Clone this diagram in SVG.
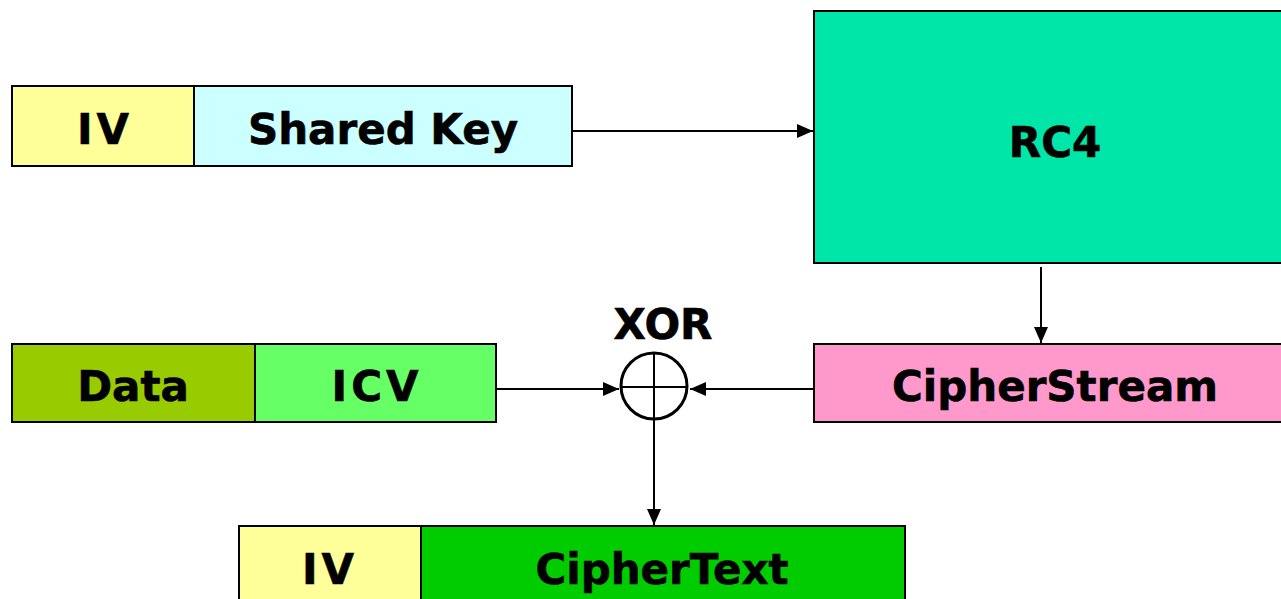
<svg xmlns="http://www.w3.org/2000/svg" width="1281" height="599" viewBox="0 0 1281 599">
  <defs>
    <marker id="arrow" viewBox="0 0 16 14" refX="16" refY="7" markerWidth="16" markerHeight="14" markerUnits="userSpaceOnUse" orient="auto">
      <path d="M0,0 L16,7 L0,14 Z" fill="#000"/>
    </marker>
  </defs>
  <style>
    .box { stroke: #000; stroke-width: 2; }
    .lbl { font-family: "DejaVu Sans", Verdana, sans-serif; font-weight: bold; font-size: 42px; text-anchor: middle; fill: #000; stroke: #000; stroke-width: 0.6; }
    .wire { stroke: #000; stroke-width: 2; fill: none; }
  </style>
  <rect width="1281" height="599" fill="#fff"/>

  <g id="key-iv">
    <rect class="box" x="12" y="86" width="182" height="80" fill="#FFFF99"/>
    <text class="lbl" x="105" y="144" letter-spacing="4">IV</text>
  </g>
  <g id="shared-key">
    <rect class="box" x="194" y="86" width="378" height="80" fill="#CCFFFF"/>
    <text class="lbl" x="383" y="144">Shared Key</text>
  </g>
  <g id="rc4">
    <rect class="box" x="814" y="11" width="480" height="252" fill="#00E5A8"/>
    <text class="lbl" x="1055" y="157">RC4</text>
  </g>
  <g id="cipherstream">
    <rect class="box" x="814" y="344" width="480" height="78" fill="#FF99CC"/>
    <text class="lbl" x="1055" y="401">CipherStream</text>
  </g>
  <g id="data">
    <rect class="box" x="12" y="344" width="243" height="78" fill="#99CC00"/>
    <text class="lbl" x="133" y="401">Data</text>
  </g>
  <g id="icv">
    <rect class="box" x="255" y="344" width="241" height="78" fill="#66FF66"/>
    <text class="lbl" x="377" y="401" letter-spacing="4">ICV</text>
  </g>
  <g id="xor">
    <circle cx="654" cy="386" r="33" fill="#fff" stroke="#000" stroke-width="3"/>
    <line x1="621" y1="387" x2="687" y2="387" stroke="#000" stroke-width="2"/>
    <line x1="654" y1="353" x2="654" y2="419" stroke="#000" stroke-width="2"/>
    <text class="lbl" x="663" y="339">XOR</text>
  </g>
  <g id="out-iv">
    <rect class="box" x="239" y="526" width="182" height="80" fill="#FFFF99"/>
    <text class="lbl" x="330" y="584" letter-spacing="4">IV</text>
  </g>
  <g id="ciphertext">
    <rect class="box" x="421" y="526" width="484" height="80" fill="#00CC00"/>
    <text class="lbl" x="662" y="584">CipherText</text>
  </g>

  <g id="connectors">
    <line class="wire" x1="572" y1="131" x2="813" y2="131" marker-end="url(#arrow)"/>
    <line class="wire" x1="1041" y1="267" x2="1041" y2="343" marker-end="url(#arrow)"/>
    <line class="wire" x1="496" y1="389" x2="619" y2="389" marker-end="url(#arrow)"/>
    <line class="wire" x1="814" y1="389" x2="690" y2="389" marker-end="url(#arrow)"/>
    <line class="wire" x1="654" y1="419" x2="654" y2="525" marker-end="url(#arrow)"/>
  </g>
</svg>
